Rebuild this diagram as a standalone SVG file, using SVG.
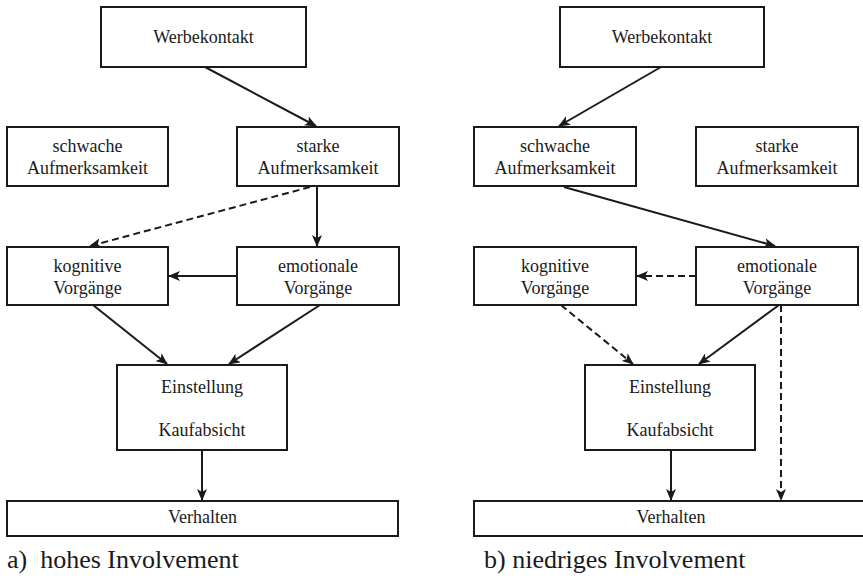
<svg xmlns="http://www.w3.org/2000/svg" width="863" height="579" viewBox="0 0 863 579" font-family="Liberation Serif, Times New Roman, serif">
<style>
.box{fill:#fff;stroke:#1a1a1a;stroke-width:2}
.t{font-size:18px;fill:#1a1a1a;text-anchor:middle}
.cap{font-size:26px;fill:#1a1a1a}
.c{fill:none;stroke:#1a1a1a;stroke-width:2}
.d{stroke-dasharray:7,4}
</style>
<defs>
<marker id="ah" viewBox="0 0 12 10" markerWidth="12" markerHeight="10" refX="11" refY="5" orient="auto" markerUnits="userSpaceOnUse">
<path d="M0,0 L12,5 L0,10 L3,5 z" fill="#1a1a1a"/>
</marker>
</defs>
<rect width="863" height="579" fill="#fff"/>

<g id="connectors">
<line class="c" x1="205" y1="67" x2="316" y2="126" marker-end="url(#ah)"/>
<line class="c d" x1="310" y1="187" x2="90" y2="246" marker-end="url(#ah)"/>
<line class="c" x1="317" y1="187" x2="317" y2="246" marker-end="url(#ah)"/>
<line class="c" x1="237" y1="276" x2="169" y2="276" marker-end="url(#ah)"/>
<line class="c" x1="93" y1="305" x2="167" y2="364" marker-end="url(#ah)"/>
<line class="c" x1="320" y1="305" x2="229" y2="364" marker-end="url(#ah)"/>
<line class="c" x1="202" y1="450" x2="202" y2="500" marker-end="url(#ah)"/>
<line class="c" x1="661" y1="67" x2="559" y2="126" marker-end="url(#ah)"/>
<line class="c" x1="564" y1="187" x2="775" y2="246" marker-end="url(#ah)"/>
<line class="c d" x1="696" y1="276" x2="637" y2="276" marker-end="url(#ah)"/>
<line class="c d" x1="561" y1="305" x2="633" y2="364" marker-end="url(#ah)"/>
<line class="c" x1="779" y1="305" x2="699" y2="364" marker-end="url(#ah)"/>
<line class="c d" x1="781" y1="305" x2="781" y2="500" marker-end="url(#ah)"/>
<line class="c" x1="671" y1="450" x2="671" y2="500" marker-end="url(#ah)"/>
</g>

<g id="a-werbekontakt"><rect class="box" x="101" y="7" width="205" height="60"/><text class="t" x="203.5" y="43">Werbekontakt</text></g>
<g id="a-schwache"><rect class="box" x="7" y="127" width="161" height="59"/><text class="t" x="87.5" y="152">schwache</text><text class="t" x="87.5" y="174">Aufmerksamkeit</text></g>
<g id="a-starke"><rect class="box" x="237" y="127" width="162" height="59"/><text class="t" x="318" y="152">starke</text><text class="t" x="318" y="174">Aufmerksamkeit</text></g>
<g id="a-kognitive"><rect class="box" x="7" y="247" width="161" height="58"/><text class="t" x="87.5" y="272">kognitive</text><text class="t" x="87.5" y="294">Vorgänge</text></g>
<g id="a-emotionale"><rect class="box" x="237" y="247" width="162" height="58"/><text class="t" x="318" y="272">emotionale</text><text class="t" x="318" y="294">Vorgänge</text></g>
<g id="a-einstellung"><rect class="box" x="117" y="365" width="170" height="85"/><text class="t" x="202" y="393">Einstellung</text><text class="t" x="202" y="436">Kaufabsicht</text></g>
<g id="a-verhalten"><rect class="box" x="7" y="501" width="391" height="35"/><text class="t" x="202.5" y="523">Verhalten</text></g>
<text class="cap" x="7" y="568" xml:space="preserve">a)  hohes Involvement</text>

<g id="b-werbekontakt"><rect class="box" x="560" y="7" width="204" height="60"/><text class="t" x="662" y="43">Werbekontakt</text></g>
<g id="b-schwache"><rect class="box" x="474" y="127" width="162" height="59"/><text class="t" x="555" y="152">schwache</text><text class="t" x="555" y="174">Aufmerksamkeit</text></g>
<g id="b-starke"><rect class="box" x="696" y="127" width="162" height="59"/><text class="t" x="777" y="152">starke</text><text class="t" x="777" y="174">Aufmerksamkeit</text></g>
<g id="b-kognitive"><rect class="box" x="474" y="247" width="162" height="58"/><text class="t" x="555" y="272">kognitive</text><text class="t" x="555" y="294">Vorgänge</text></g>
<g id="b-emotionale"><rect class="box" x="696" y="247" width="162" height="58"/><text class="t" x="777" y="272">emotionale</text><text class="t" x="777" y="294">Vorgänge</text></g>
<g id="b-einstellung"><rect class="box" x="585" y="365" width="170" height="85"/><text class="t" x="670" y="393">Einstellung</text><text class="t" x="670" y="436">Kaufabsicht</text></g>
<g id="b-verhalten"><rect class="box" x="474" y="501" width="394" height="35"/><text class="t" x="671" y="523">Verhalten</text></g>
<text class="cap" x="484" y="568">b) niedriges Involvement</text>
</svg>
